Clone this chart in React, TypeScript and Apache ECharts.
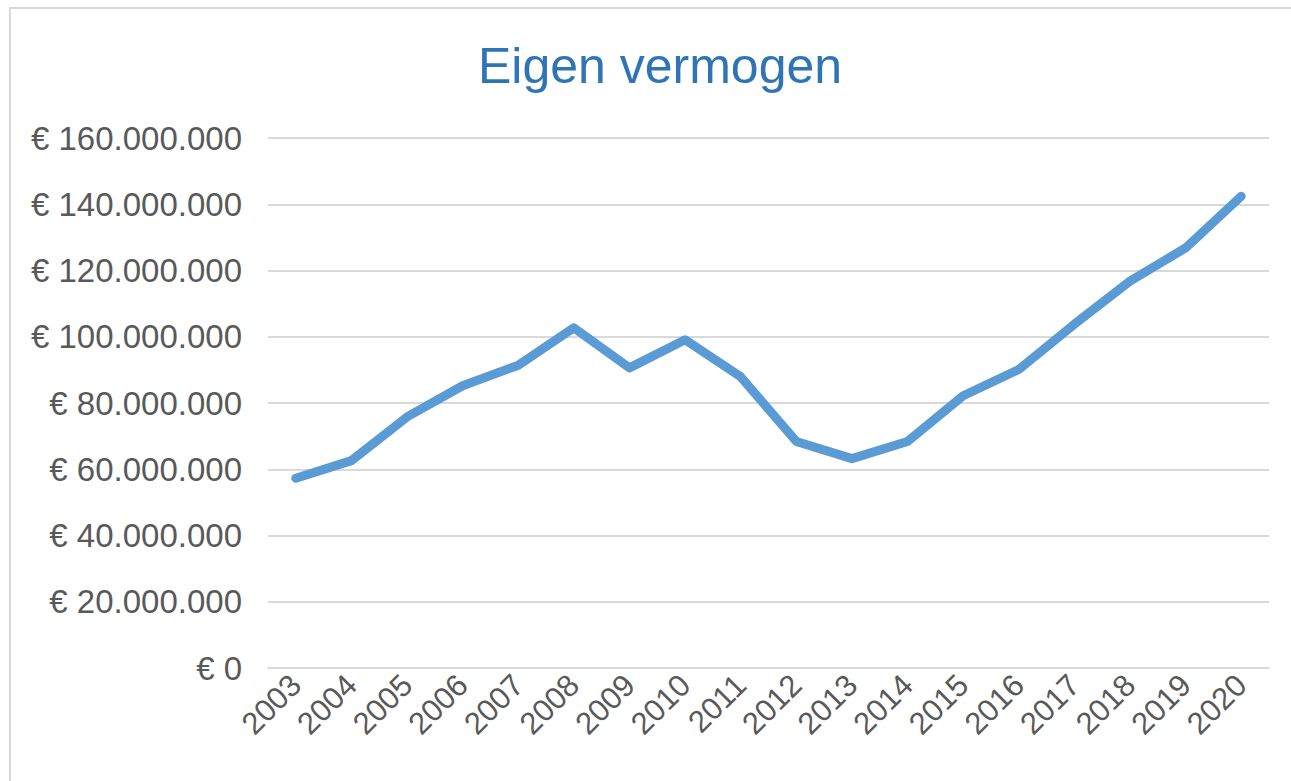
import React, { useEffect, useRef } from "react";
import * as echarts from "echarts";

const years = ["2003","2004","2005","2006","2007","2008","2009","2010","2011","2012","2013","2014","2015","2016","2017","2018","2019","2020"];
const eigenVermogen = [57.3, 62.6, 75.8, 85.2, 91.4, 102.7, 90.6, 99.1, 87.9, 68.4, 63.2, 68.4, 82.2, 90.1, 103.8, 116.8, 126.8, 142.4].map(v => v * 1e6);
const titleText = "Eigen vermogen";

function fmt(v: number): string {
  if (v === 0) return "€ 0";
  const s = Math.round(v).toString().replace(/\B(?=(\d{3})+(?!\d))/g, ".");
  return "€ " + s;
}

export default function App() {
  const ref = useRef<HTMLDivElement>(null);
  useEffect(() => {
    const chart = echarts.init(ref.current!, null, { renderer: "svg" });
    const font = "'Liberation Sans', Arial, sans-serif";
    chart.setOption({
      animation: false,
      backgroundColor: "#ffffff",
      title: {
        text: titleText,
        left: 660,
        textAlign: "center",
        top: 41,
        padding: 0,
        textStyle: { color: "#2F75B5", fontSize: 50, fontWeight: "normal", fontFamily: font },
      },
      graphic: [
        {
          type: "rect",
          shape: { x: 10, y: 8, width: 1320, height: 820 },
          style: { fill: "none", stroke: "#d9d9d9", lineWidth: 2 },
          silent: true,
        },
      ],
      grid: { left: 268, right: 22, top: 138, bottom: 113, containLabel: false },
      xAxis: {
        type: "category",
        data: years,
        boundaryGap: true,
        axisLine: { show: true, lineStyle: { color: "#d9d9d9", width: 2 } },
        axisTick: { show: false },
        axisLabel: { rotate: 45, color: "#595959", fontSize: 31, fontFamily: font, margin: 12, interval: 0 },
      },
      yAxis: {
        type: "value",
        min: 0,
        max: 160000000,
        interval: 20000000,
        axisLine: { show: false },
        axisTick: { show: false },
        splitLine: { lineStyle: { color: "#d9d9d9", width: 2 } },
        axisLabel: { color: "#595959", fontSize: 33, fontFamily: font, margin: 26, formatter: (v: number) => fmt(v) },
      },
      series: [
        {
          type: "line",
          data: eigenVermogen,
          showSymbol: false,
          symbol: "none",
          lineStyle: { color: "#5B9BD5", width: 9, cap: "round", join: "round" },
        },
      ],
    });
    return () => chart.dispose();
  }, []);
  return <div ref={ref} style={{ position: "fixed", left: 0, top: 0, width: 1291, height: 781 }} />;
}
